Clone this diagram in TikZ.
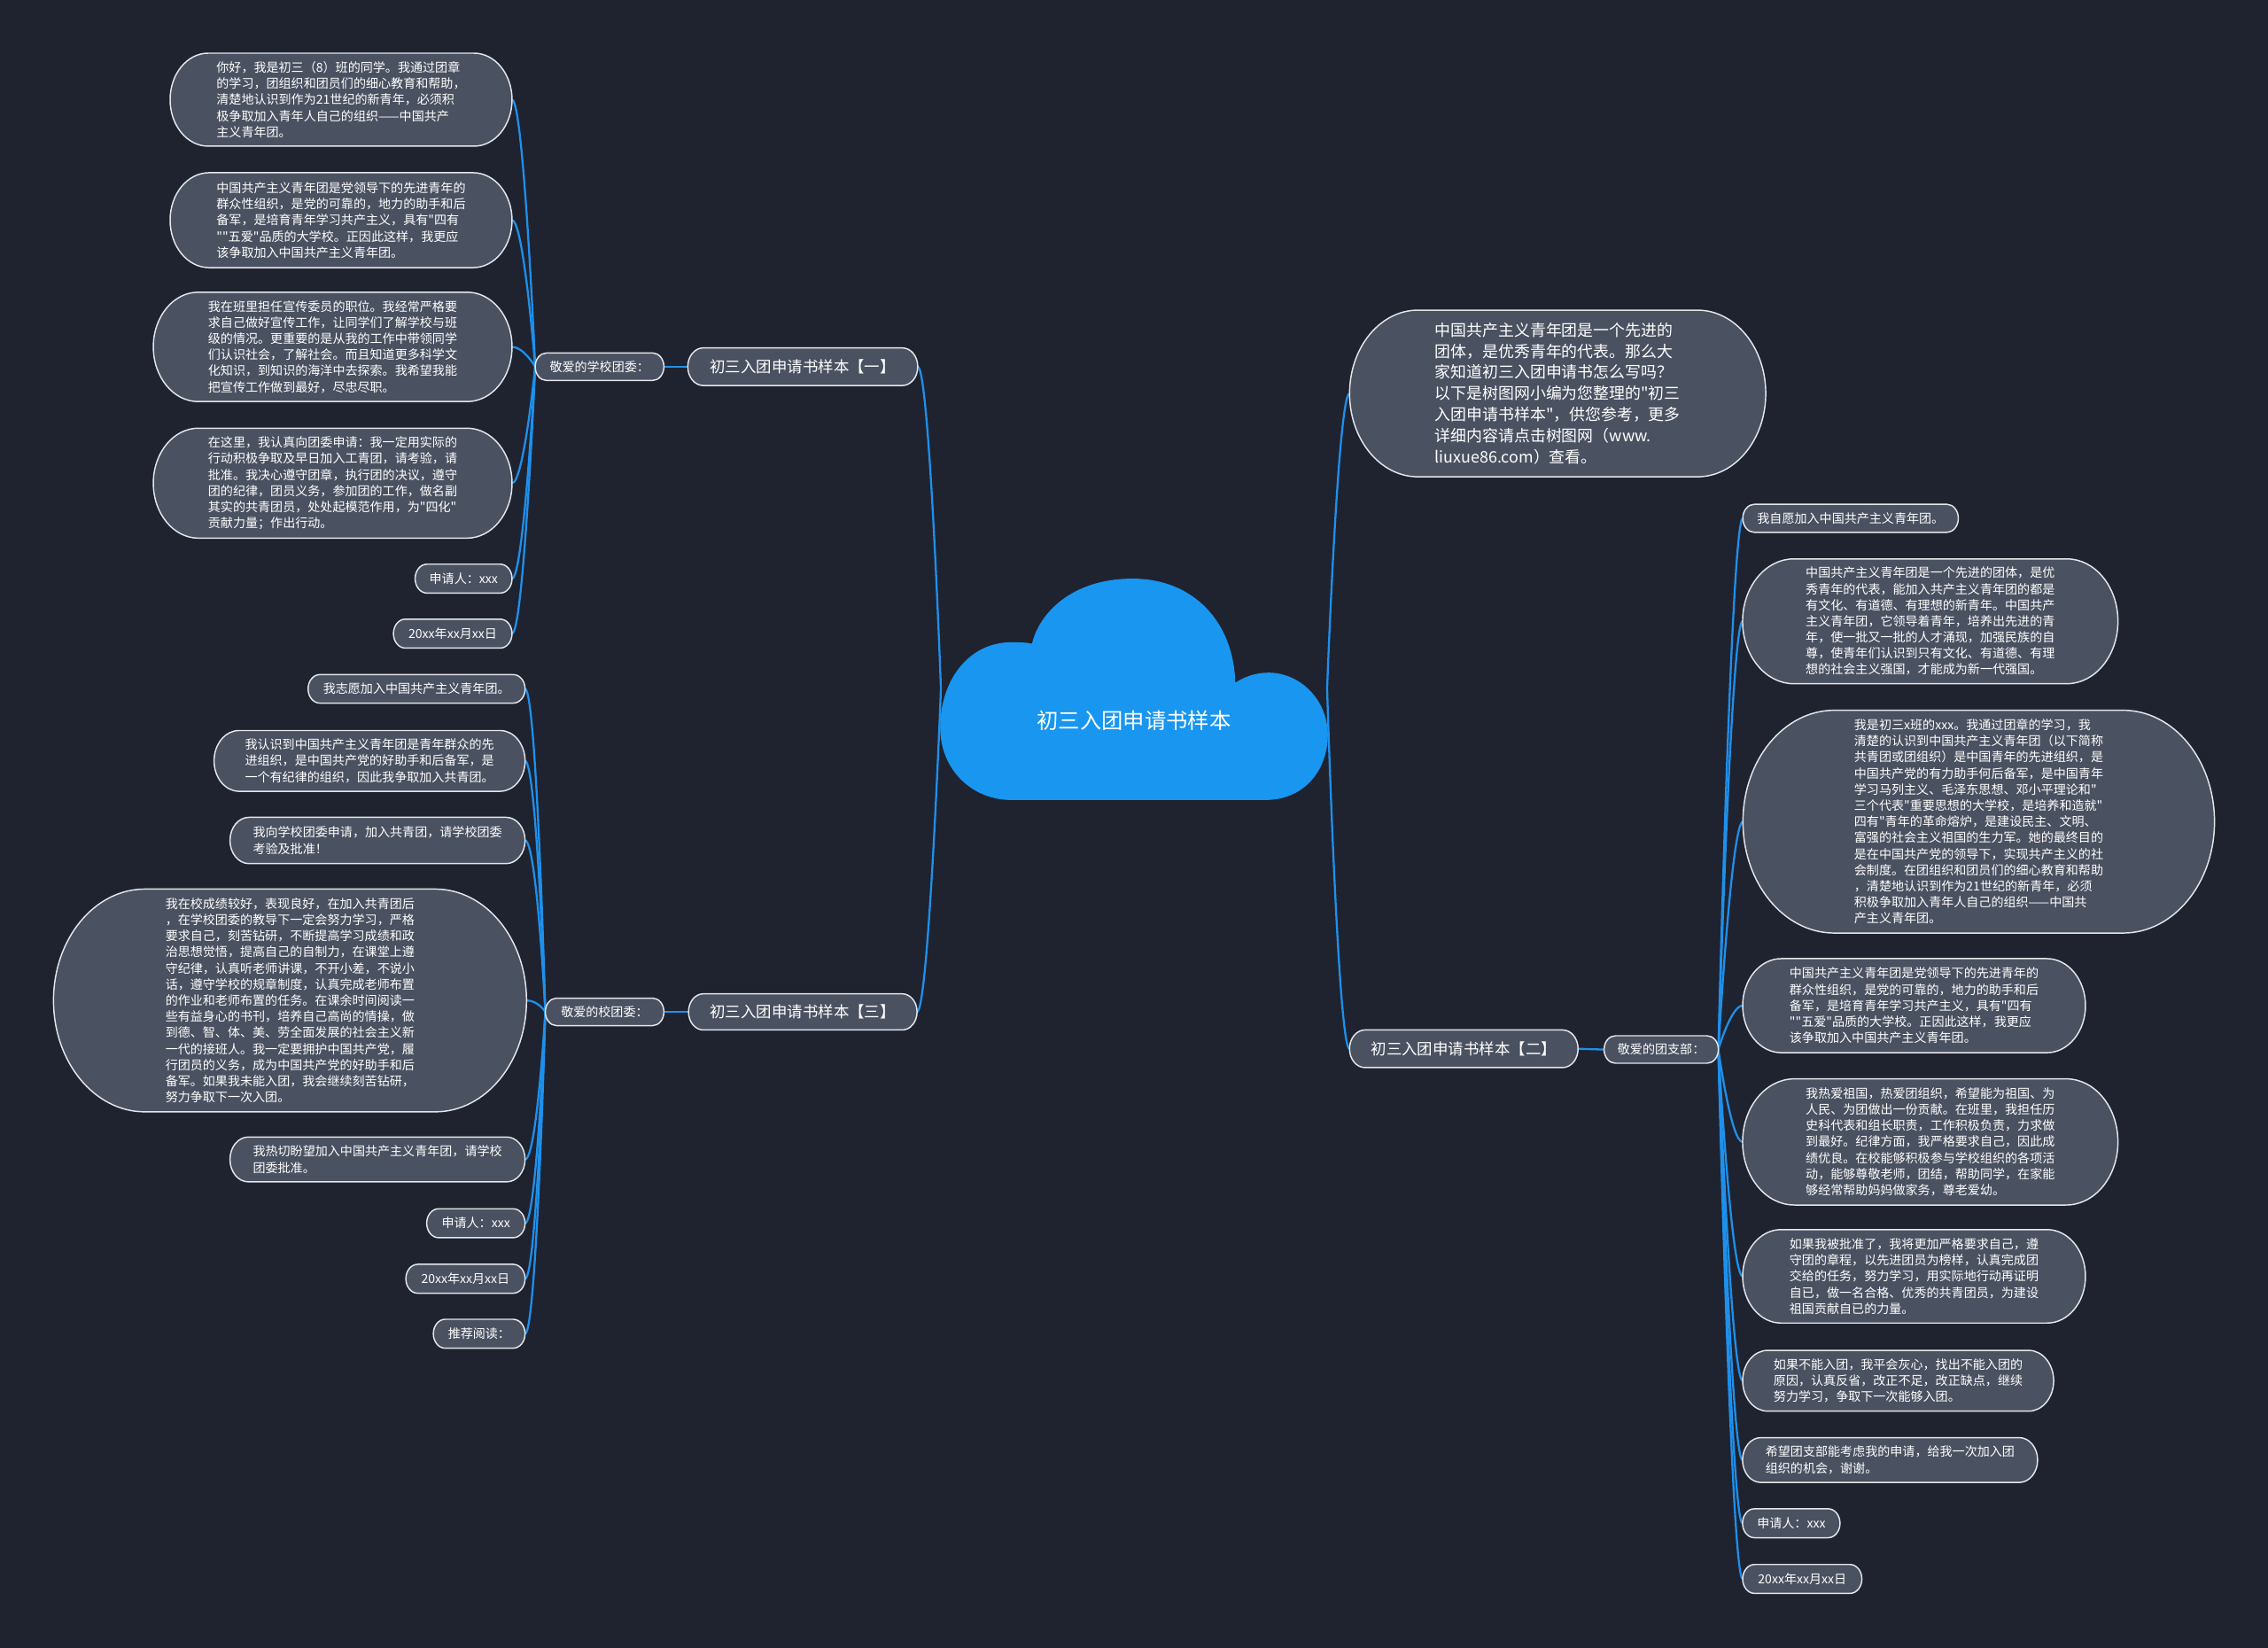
\documentclass[tikz,border=0pt]{standalone}
\usepackage{fontspec}
\setmainfont{Noto Sans CJK SC}
\newfontfamily\cjk{Noto Sans CJK SC}
\usetikzlibrary{calc}
\definecolor{bgc}{HTML}{1F2330}
\definecolor{nodefill}{HTML}{4A5161}
\definecolor{nodeborder}{HTML}{E4E6EA}
\definecolor{linec}{HTML}{1E90EB}
\definecolor{cloudc}{HTML}{1996F0}
\pgfdeclarelayer{lines}
\pgfdeclarelayer{boxes}
\pgfsetlayers{lines,boxes,main}
\tikzset{
  txt/.style={inner sep=0pt, outer sep=0pt, text=white, align=left,
    font=\cjk\fontsize{24.5pt}{31.7pt}\selectfont},
  lbl/.style={txt, align=center},
  brlabel/.style={txt, align=center, font=\cjk\fontsize{30.4pt}{36pt}\selectfont},
  introtxt/.style={txt, font=\cjk\fontsize{31.2pt}{41.5pt}\selectfont},
  pillstyle/.style={fill=nodefill, draw=nodeborder, line width=0.9mm},
  linkstyle/.style={draw=linec, line width=1.4mm},
}
\newcommand\pillbox[1]{%
  \begin{pgfonlayer}{boxes}
  \path[pillstyle] let \p1=(#1.north west), \p2=(#1.south east),
    \n1={(\y1-\y2)/2}, \n2={min(0.82*\n1,(\x2-\x1)/2)} in
    (\x1+\n2*1pt,\y1) -- (\x2-\n2*1pt,\y1)
    arc[start angle=90,end angle=-90,x radius=\n2*1pt,y radius=\n1*1pt]
    -- (\x1+\n2*1pt,\y2)
    arc[start angle=270,end angle=90,x radius=\n2*1pt,y radius=\n1*1pt] -- cycle;
  \end{pgfonlayer}}
\newcommand\link[3]{%
  \begin{pgfonlayer}{lines}
  \draw[linkstyle] (#1) .. controls (#1) and ($(#2)+(#3,0)$) .. (#2);
  \end{pgfonlayer}}
\begin{document}
\begin{tikzpicture}[x=1mm,y=-1mm]
\useasboundingbox (0,0) rectangle (1568,1139);
\begin{pgfonlayer}{lines}
\fill[bgc] (0,0) rectangle (1568,1139);
\end{pgfonlayer}

% ---- cloud ----
\begin{pgfonlayer}{boxes}
\fill[cloudc] (699,553) -- (875,553)
  .. controls (902,553) and (918,532) .. (918,508)
  .. controls (918,484) and (899,465) .. (877,465)
  .. controls (868,465) and (860,468) .. (854,472)
  .. controls (853,430) and (825,400) .. (783,400)
  .. controls (740,400) and (718,425) .. (713.5,445)
  .. controls (709,444) and (704,444) .. (699,444)
  .. controls (670,444) and (650,470) .. (650,503)
  .. controls (650,532) and (672,553) .. (699,553) -- cycle;
\end{pgfonlayer}
\node[lbl, font=\cjk\fontsize{42.4pt}{48pt}\selectfont] (root) at (784,498) {初三入团申请书样本};
\coordinate (cloudL) at (650.5,476);
\coordinate (cloudR) at (917.5,476);

% ---- branch one ----
\node[brlabel, minimum width=159mm, minimum height=26mm] (B1) at (555,253.5) {初三入团申请书样本【一】};
\node[lbl, minimum width=89mm, minimum height=19mm] (P1) at (414.5,253.5) {敬爱的学校团委：};
\node[txt, minimum width=236.4mm, minimum height=64.3mm] (L1a) at (235.8,68.9) {你好，我是初三（8）班的同学。我通过团章\\
的学习，团组织和团员们的细心教育和帮助，\\
清楚地认识到作为21世纪的新青年，必须积\\
极争取加入青年人自己的组织——中国共产\\
主义青年团。};
\node[txt, minimum width=236.4mm, minimum height=65.6mm] (L1b) at (235.8,152.2) {中国共产主义青年团是党领导下的先进青年的\\
群众性组织，是党的可靠的，地力的助手和后\\
备军，是培育青年学习共产主义，具有"四有\\
""五爱"品质的大学校。正因此这样，我更应\\
该争取加入中国共产主义青年团。};
\node[txt, minimum width=248mm, minimum height=75.6mm] (L1c) at (230,239.8) {我在班里担任宣传委员的职位。我经常严格要\\
求自己做好宣传工作，让同学们了解学校与班\\
级的情况。更重要的是从我的工作中带领同学\\
们认识社会，了解社会。而且知道更多科学文\\
化知识，到知识的海洋中去探索。我希望我能\\
把宣传工作做到最好，尽忠尽职。};
\node[txt, minimum width=248mm, minimum height=76mm] (L1d) at (230,334) {在这里，我认真向团委申请：我一定用实际的\\
行动积极争取及早日加入工青团，请考验，请\\
批准。我决心遵守团章，执行团的决议，遵守\\
团的纪律，团员义务，参加团的工作，做名副\\
其实的共青团员，处处起模范作用，为"四化"\\
贡献力量；作出行动。};
\node[lbl, minimum width=67mm, minimum height=20mm] (L1e) at (320.5,400) {申请人：xxx};
\node[lbl, minimum width=82mm, minimum height=20mm] (L1f) at (313,438) {20xx年xx月xx日};

% ---- branch three ----
\node[brlabel, minimum width=158mm, minimum height=25mm] (B3) at (555,699.5) {初三入团申请书样本【三】};
\node[lbl, minimum width=82mm, minimum height=19mm] (P3) at (418,699.5) {敬爱的校团委：};
\node[lbl, minimum width=150mm, minimum height=19.7mm] (L3a) at (288,476.2) {我志愿加入中国共产主义青年团。};
\node[txt, minimum width=215mm, minimum height=42mm] (L3b) at (255.5,526) {我认识到中国共产主义青年团是青年群众的先\\
进组织，是中国共产党的好助手和后备军，是\\
一个有纪律的组织，因此我争取加入共青团。};
\node[txt, minimum width=204mm, minimum height=32mm] (L3c) at (261,581) {我向学校团委申请，加入共青团，请学校团委\\
考验及批准！};
\node[txt, minimum width=327mm, minimum height=154mm] (L3d) at (200.5,691.6) {我在校成绩较好，表现良好，在加入共青团后\\
，在学校团委的教导下一定会努力学习，严格\\
要求自己，刻苦钻研，不断提高学习成绩和政\\
治思想觉悟，提高自己的自制力，在课堂上遵\\
守纪律，认真听老师讲课，不开小差，不说小\\
话，遵守学校的规章制度，认真完成老师布置\\
的作业和老师布置的任务。在课余时间阅读一\\
些有益身心的书刊，培养自己高尚的情操，做\\
到德、智、体、美、劳全面发展的社会主义新\\
一代的接班人。我一定要拥护中国共产党，履\\
行团员的义务，成为中国共产党的好助手和后\\
备军。如果我未能入团，我会继续刻苦钻研，\\
努力争取下一次入团。};
\node[txt, minimum width=204mm, minimum height=31mm] (L3e) at (261,801.5) {我热切盼望加入中国共产主义青年团，请学校\\
团委批准。};
\node[lbl, minimum width=68mm, minimum height=20mm] (L3f) at (329,845.6) {申请人：xxx};
\node[lbl, minimum width=82.4mm, minimum height=20mm] (L3g) at (321.8,884) {20xx年xx月xx日};
\node[lbl, minimum width=63.4mm, minimum height=20mm] (L3h) at (331.3,922) {推荐阅读：};

% ---- right side ----
\node[introtxt, minimum width=287.7mm, minimum height=115.2mm] (intro) at (1076.9,272) {中国共产主义青年团是一个先进的\\
团体，是优秀青年的代表。那么大\\
家知道初三入团申请书怎么写吗？\\
以下是树图网小编为您整理的"初三\\
入团申请书样本"，供您参考，更多\\
详细内容请点击树图网（www.\\
liuxue86.com）查看。};
\node[brlabel, minimum width=158mm, minimum height=26mm] (B2) at (1012,725) {初三入团申请书样本【二】};
\node[lbl, minimum width=79mm, minimum height=19mm] (P2) at (1148.5,725.5) {敬爱的团支部：};
\node[lbl, minimum width=149mm, minimum height=19.4mm] (R1) at (1279.4,358.3) {我自愿加入中国共产主义青年团。};
\node[txt, minimum width=259.5mm, minimum height=86.3mm] (R2) at (1334.5,429.5) {中国共产主义青年团是一个先进的团体，是优\\
秀青年的代表，能加入共产主义青年团的都是\\
有文化、有道德、有理想的新青年。中国共产\\
主义青年团，它领导着青年，培养出先进的青\\
年，使一批又一批的人才涌现，加强民族的自\\
尊，使青年们认识到只有文化、有道德、有理\\
想的社会主义强国，才能成为新一代强国。};
\node[txt, minimum width=326mm, minimum height=154mm] (R3) at (1368,568) {我是初三x班的xxx。我通过团章的学习，我\\
清楚的认识到中国共产主义青年团（以下简称\\
共青团或团组织）是中国青年的先进组织，是\\
中国共产党的有力助手何后备军，是中国青年\\
学习马列主义、毛泽东思想、邓小平理论和"\\
三个代表"重要思想的大学校，是培养和造就"\\
四有"青年的革命熔炉，是建设民主、文明、\\
富强的社会主义祖国的生力军。她的最终目的\\
是在中国共产党的领导下，实现共产主义的社\\
会制度。在团组织和团员们的细心教育和帮助\\
，清楚地认识到作为21世纪的新青年，必须\\
积极争取加入青年人自己的组织——中国共\\
产主义青年团。};
\node[txt, minimum width=237mm, minimum height=65mm] (R4) at (1323.3,695.2) {中国共产主义青年团是党领导下的先进青年的\\
群众性组织，是党的可靠的，地力的助手和后\\
备军，是培育青年学习共产主义，具有"四有\\
""五爱"品质的大学校。正因此这样，我更应\\
该争取加入中国共产主义青年团。};
\node[txt, minimum width=259.5mm, minimum height=87.2mm] (R5) at (1334.5,789.4) {我热爱祖国，热爱团组织，希望能为祖国、为\\
人民、为团做出一份贡献。在班里，我担任历\\
史科代表和组长职责，工作积极负责，力求做\\
到最好。纪律方面，我严格要求自己，因此成\\
绩优良。在校能够积极参与学校组织的各项活\\
动，能够尊敬老师，团结，帮助同学，在家能\\
够经常帮助妈妈做家务，尊老爱幼。};
\node[txt, minimum width=237mm, minimum height=64.6mm] (R6) at (1323.3,882.3) {如果我被批准了，我将更加严格要求自己，遵\\
守团的章程，以先进团员为榜样，认真完成团\\
交给的任务，努力学习，用实际地行动再证明\\
自已，做一名合格、优秀的共青团员，为建设\\
祖国贡献自已的力量。};
\node[txt, minimum width=215mm, minimum height=42mm] (R7) at (1312.3,954.5) {如果不能入团，我平会灰心，找出不能入团的\\
原因，认真反省，改正不足，改正缺点，继续\\
努力学习，争取下一次能够入团。};
\node[txt, minimum width=204mm, minimum height=31mm] (R8) at (1306.7,1009.3) {希望团支部能考虑我的申请，给我一次加入团\\
组织的机会，谢谢。};
\node[lbl, minimum width=67.4mm, minimum height=20mm] (R9) at (1238.4,1053) {申请人：xxx};
\node[lbl, minimum width=82.4mm, minimum height=20mm] (R10) at (1246,1091.5) {20xx年xx月xx日};

% ---- boxes ----
\foreach \nm in {B1,P1,L1a,L1b,L1c,L1d,L1e,L1f,B3,P3,L3a,L3b,L3c,L3d,L3e,L3f,L3g,L3h,intro,B2,P2,R1,R2,R3,R4,R5,R6,R7,R8,R9,R10}{\pillbox{\nm}}

% ---- connectors ----
\link{cloudL}{B1.east}{8}
\link{cloudL}{B3.east}{8}
\link{cloudR}{intro.west}{-8}
\link{cloudR}{B2.west}{-8}
\link{B1.west}{P1.east}{4}
\link{B3.west}{P3.east}{4}
\link{B2.east}{P2.west}{-4}
\foreach \nm in {L1a,L1b,L1c,L1d,L1e,L1f}{\link{P1.west}{\nm.east}{8}}
\foreach \nm in {L3a,L3b,L3c,L3d,L3e,L3f,L3g,L3h}{\link{P3.west}{\nm.east}{8}}
\foreach \nm in {R1,R2,R3,R4,R5,R6,R7,R8,R9,R10}{\link{P2.east}{\nm.west}{-8}}
\end{tikzpicture}
\end{document}
